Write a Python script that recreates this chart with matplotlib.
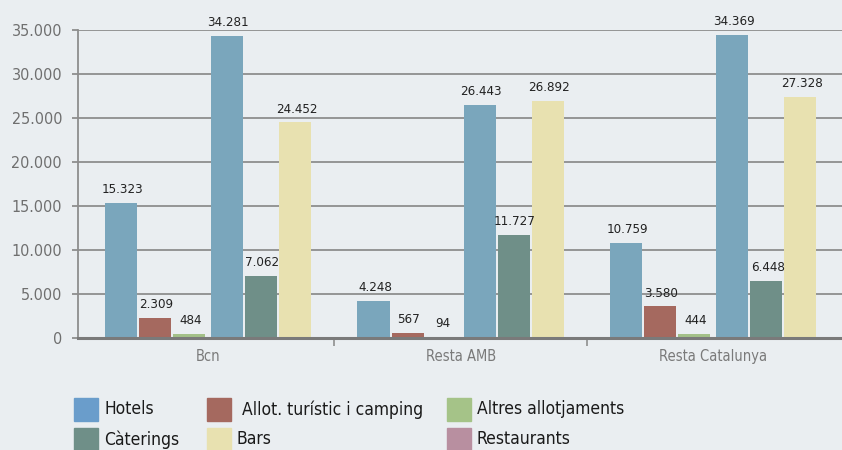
import matplotlib
matplotlib.use("Agg")
import matplotlib.pyplot as plt
from matplotlib.patches import Rectangle
import numpy as np

plt.rcParams['font.family'] = ['DejaVu Sans']
plt.rcParams['font.stretch'] = 'condensed'

# ---- data ----
groups = ["Bcn", "Resta AMB", "Resta Catalunya"]
hotels = [15323, 4248, 10759]
allot = [2309, 567, 3580]
altres = [484, 94, 444]
restaurants = [34281, 26443, 34369]
caterings = [7062, 11727, 6448]
bars = [24452, 26892, 27328]
yticks = [0, 5000, 10000, 15000, 20000, 25000, 30000, 35000]

series = [hotels, allot, altres, restaurants, caterings, bars]
bar_colors = ["#7aa6bc", "#a5695f", "#a3c088", "#7aa6bc", "#6f8f88", "#e8e1b0"]
offsets = [-0.345, -0.21, -0.075, 0.075, 0.21, 0.345]
width = 0.127

legend_labels = ["Hotels", " Allot. turístic i camping", "Altres allotjaments",
                 "Càterings", "Bars", "Restaurants"]
legend_colors = ["#6a9dcb", "#a5695f", "#a5c388", "#6f8f88", "#e8e1b0", "#b88fa0"]

BG = "#eaeef1"
GRID = "#8e8e8e"


def fmt(v):
    return f"{v:,}".replace(",", ".")


fig = plt.figure(figsize=(8.42, 4.5), dpi=100, facecolor=BG)
ax = fig.add_axes([78 / 842, 1 - 338 / 450, 1 - 78 / 842, (338 - 29.5) / 450])
ax.set_facecolor(BG)

x = np.arange(len(groups))
for vals, col, off in zip(series, bar_colors, offsets):
    rects = ax.bar(x + off, vals, width, color=col, zorder=3)
    for r, v in zip(rects, vals):
        ax.annotate(fmt(v), (r.get_x() + r.get_width() / 2, r.get_height()),
                    xytext=(1, 5), textcoords="offset points",
                    ha="center", va="bottom", fontsize=9.5, color="#222222",
                    zorder=4, annotation_clip=False)

ax.set_xlim(-0.515, 2.51)
ax.set_ylim(0, 35000)
ax.set_yticks(yticks)
ax.set_yticklabels([fmt(v) for v in yticks])
ax.yaxis.grid(True, color=GRID, linewidth=1.3, zorder=1)
ax.tick_params(axis="y", length=4.5, width=1.3, color=GRID, pad=7,
               labelsize=11.5, labelcolor="#6f6f6f")

ax.set_xticks(x)
ax.set_xticklabels(groups)
ax.set_xticks([0.5, 1.5], minor=True)
ax.tick_params(axis="x", which="major", length=0, pad=8, labelsize=10.5,
               labelcolor="#7a7a7a")
ax.tick_params(axis="x", which="minor", length=5.5, width=1.2, color=GRID)

for sp in ["top", "right"]:
    ax.spines[sp].set_visible(False)
ax.spines["left"].set_color(GRID)
ax.spines["left"].set_linewidth(1.3)
ax.spines["bottom"].set_color("#7a7a7a")
ax.spines["bottom"].set_linewidth(2.2)
ax.spines["bottom"].set_zorder(5)

# ---- legend (manual layout, 3 columns x 2 rows) ----
col_x = [74, 207, 447]
row_y = [409.5, 439.5]
pw, ph = 24, 23
for i, (lab, c) in enumerate(zip(legend_labels, legend_colors)):
    r, k = divmod(i, 3)
    px, py = col_x[k], row_y[r]
    fig.patches.append(Rectangle((px / 842, 1 - (py + ph / 2) / 450), pw / 842, ph / 450,
                                 transform=fig.transFigure, color=c, figure=fig))
    fig.text((px + 30) / 842, 1 - py / 450, lab, ha="left", va="center",
             fontsize=12.5, color="#1a1a1a")

fig.savefig("out.png", dpi=100, facecolor=BG)
